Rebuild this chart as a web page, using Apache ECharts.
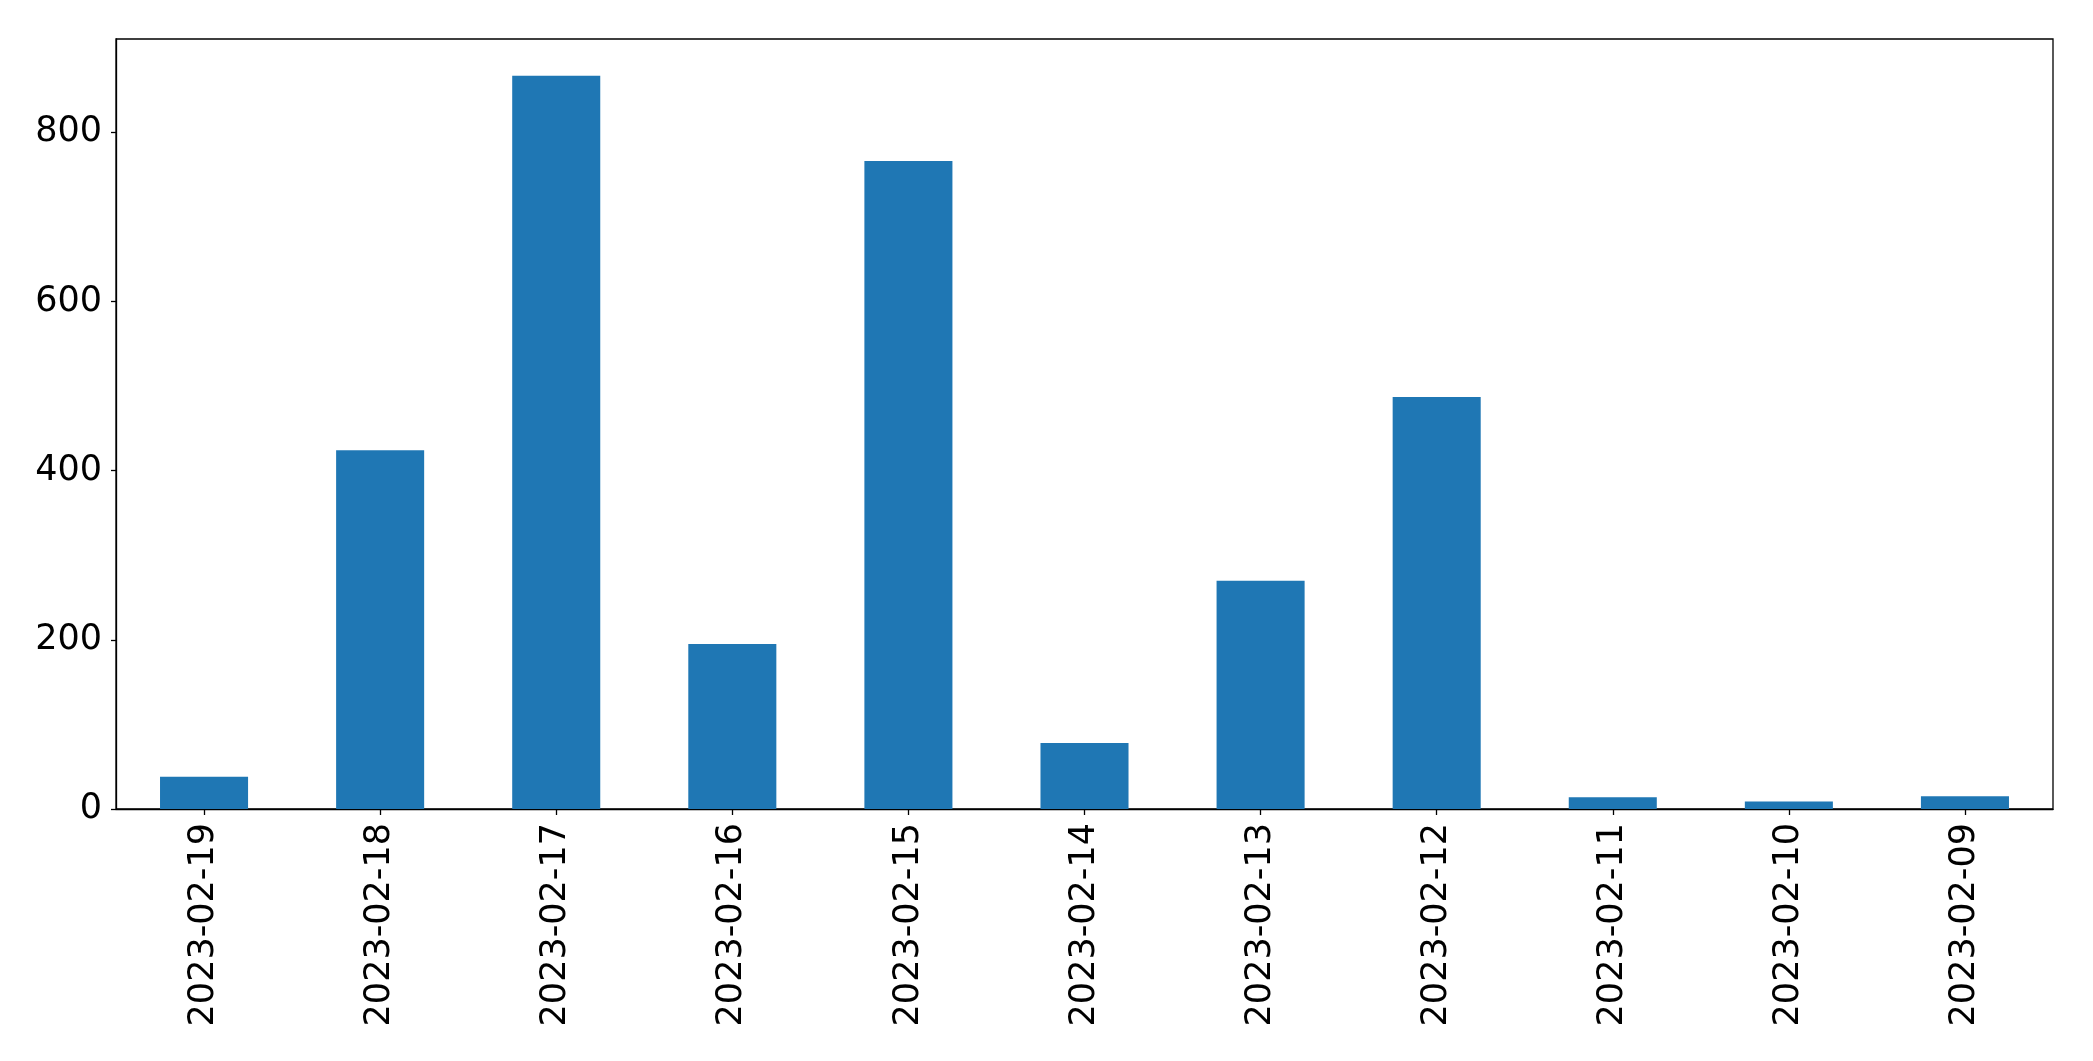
<!DOCTYPE html>
<html>
<head>
<meta charset="utf-8">
<script src="https://cdn.jsdelivr.net/npm/echarts@6/dist/echarts.min.js"></script>
<style>
html,body{margin:0;padding:0;background:#fff;}
#chart{width:2093px;height:1061px;}
</style>
</head>
<body>
<div id="chart"></div>
<script>
const categories = ["2023-02-19","2023-02-18","2023-02-17","2023-02-16","2023-02-15","2023-02-14","2023-02-13","2023-02-12","2023-02-11","2023-02-10","2023-02-09"];
const values = [38, 424, 867, 195, 766, 78, 270, 487, 14, 9, 15];
const yTicks = [0, 200, 400, 600, 800];

const yMax = Math.max(...values) * 1.05;
const font = "DejaVu Sans";

const chart = echarts.init(document.getElementById('chart'), null, {renderer: 'canvas'});
chart.setOption({
  backgroundColor: '#ffffff',
  animation: false,
  grid: {
    left: 116, top: 39, right: 40, bottom: 252,
    show: true, borderColor: '#000', borderWidth: 1.3, backgroundColor: 'transparent'
  },
  xAxis: {
    type: 'category',
    data: categories,
    boundaryGap: true,
    axisLine: {show: true, lineStyle: {color: '#000', width: 1.3}},
    axisTick: {show: true, alignWithLabel: true, length: 6, lineStyle: {color: '#000', width: 1.3}},
    axisLabel: {
      rotate: 90, margin: 14, color: '#000', fontFamily: font, fontSize: 35, interval: 0
    },
    splitLine: {show: false}
  },
  yAxis: {
    type: 'value',
    min: 0,
    max: yMax,
    interval: 200,
    axisLine: {show: true, lineStyle: {color: '#000', width: 1.3}},
    axisTick: {show: true, length: 5, customValues: yTicks, lineStyle: {color: '#000', width: 1.3}},
    axisLabel: {margin: 14, color: '#000', fontFamily: font, fontSize: 35, customValues: yTicks},
    splitLine: {show: false}
  },
  series: [{
    type: 'bar',
    data: values,
    barCategoryGap: '50%',
    itemStyle: {color: '#1f77b4'}
  }]
});
</script>
</body>
</html>
